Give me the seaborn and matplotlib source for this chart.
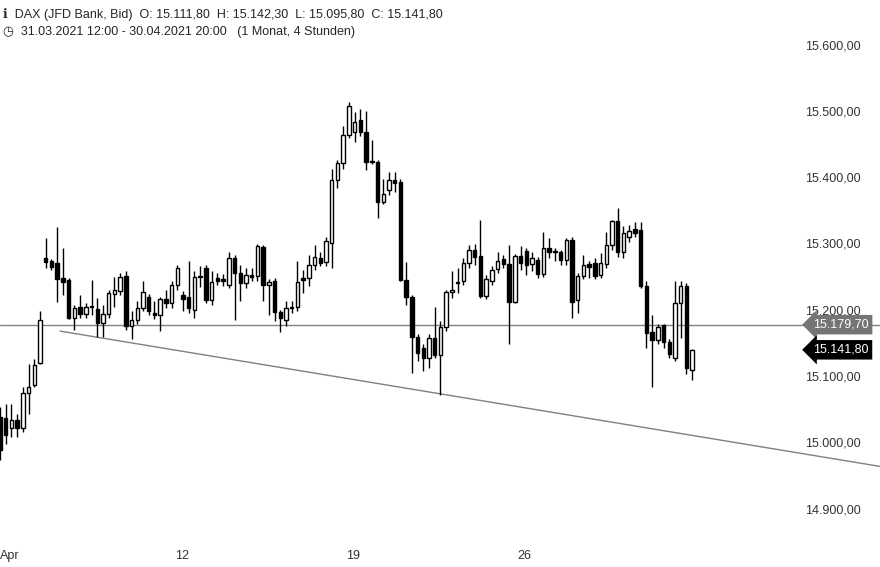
import numpy as np
import pandas as pd
import matplotlib
matplotlib.use("Agg")
import matplotlib.pyplot as plt
import seaborn as sns

# 4h candles DAX (JFD Bank, Bid), 31.03.2021 - 30.04.2021
opens = [15040, 15039, 15024, 15036, 15024, 15077, 15089, 15122,
         15280, 15276, 15273, 15250, 15247, 15190, 15206, 15196, 15208, 15203, 15182, 15196,
         15226, 15230, 15253, 15178, 15187, 15205, 15221, 15197, 15194, 15218, 15212, 15240,
         15224, 15221, 15202, 15253, 15265, 15217, 15250, 15248, 15240, 15280, 15258, 15243,
         15255, 15253, 15297, 15240, 15246, 15199, 15187, 15205, 15206, 15250, 15250, 15270,
         15280, 15274, 15303, 15398, 15424, 15466, 15470, 15488, 15470, 15426, 15425, 15365,
         15383, 15398, 15395, 15247, 15221, 15161, 15145, 15129, 15160, 15134, 15176, 15229,
         15243, 15246, 15273, 15292, 15283, 15223, 15246, 15264, 15279, 15271, 15214, 15283,
         15291, 15271, 15277, 15256, 15295, 15290, 15289, 15277, 15307, 15217, 15253, 15271,
         15273, 15255, 15271, 15300, 15336, 15289, 15312, 15324, 15322, 15238, 15169, 15157,
         15179, 15154, 15129, 15212, 15238, 15111.8]
highs = [15055, 15060, 15060, 15045, 15085, 15120, 15128, 15200,
         15310, 15278, 15327, 15295, 15250, 15210, 15225, 15212, 15247, 15220, 15210, 15232,
         15252, 15258, 15260, 15200, 15215, 15245, 15226, 15215, 15222, 15232, 15245, 15270,
         15230, 15275, 15260, 15268, 15270, 15260, 15258, 15256, 15290, 15285, 15270, 15265,
         15265, 15302, 15300, 15248, 15250, 15202, 15215, 15215, 15275, 15262, 15285, 15300,
         15290, 15312, 15415, 15428, 15480, 15515, 15500, 15505, 15502, 15458, 15428, 15400,
         15410, 15410, 15400, 15274, 15225, 15165, 15150, 15165, 15206, 15185, 15232, 15260,
         15265, 15280, 15300, 15302, 15338, 15255, 15268, 15290, 15285, 15300, 15287, 15298,
         15295, 15290, 15282, 15320, 15310, 15295, 15292, 15310, 15312, 15258, 15285, 15275,
         15280, 15288, 15320, 15338, 15355, 15328, 15330, 15335, 15335, 15245, 15195, 15180,
         15180, 15158, 15245, 15245, 15242, 15142.3]
lows = [14975, 15000, 15010, 15010, 15018, 15045, 15086, 15120,
        15265, 15262, 15214, 15225, 15188, 15172, 15190, 15190, 15195, 15161, 15161, 15190,
        15206, 15225, 15172, 15158, 15180, 15200, 15195, 15188, 15170, 15205, 15205, 15232,
        15200, 15198, 15190, 15236, 15212, 15210, 15240, 15238, 15235, 15187, 15215, 15235,
        15245, 15245, 15215, 15195, 15185, 15169, 15178, 15198, 15200, 15228, 15238, 15262,
        15268, 15268, 15265, 15386, 15415, 15462, 15455, 15465, 15413, 15422, 15340, 15362,
        15375, 15380, 15245, 15210, 15107, 15125, 15110, 15115, 15130, 15074, 15170, 15220,
        15228, 15240, 15265, 15270, 15220, 15218, 15240, 15258, 15265, 15150, 15212, 15262,
        15255, 15260, 15250, 15252, 15280, 15275, 15270, 15270, 15190, 15198, 15248, 15250,
        15248, 15250, 15265, 15292, 15282, 15280, 15305, 15312, 15235, 15145, 15085, 15150,
        15145, 15130, 15125, 15160, 15106, 15095.8]
closes = [14991, 15013, 15036, 15024, 15077, 15086, 15119, 15187,
          15274, 15267, 15249, 15244, 15190, 15205, 15196, 15206, 15206, 15182, 15196, 15227,
          15232, 15252, 15178, 15187, 15205, 15229, 15200, 15194, 15218, 15212, 15240, 15265,
          15218, 15205, 15252, 15252, 15217, 15244, 15246, 15245, 15280, 15258, 15243, 15255,
          15252, 15298, 15240, 15244, 15199, 15190, 15205, 15206, 15244, 15247, 15270, 15282,
          15273, 15306, 15398, 15424, 15466, 15510, 15485, 15470, 15425, 15425, 15365, 15377,
          15398, 15393, 15247, 15221, 15161, 15137, 15129, 15160, 15134, 15176, 15229, 15232,
          15244, 15273, 15292, 15282, 15223, 15249, 15262, 15276, 15271, 15214, 15283, 15273,
          15270, 15280, 15256, 15295, 15289, 15289, 15277, 15307, 15214, 15253, 15270, 15267,
          15253, 15273, 15300, 15336, 15289, 15318, 15321, 15318, 15238, 15167, 15157, 15176,
          15154, 15135, 15212, 15238, 15114, 15141.8]

x_labels = ["Apr", "12", "19", "26"]
x_label_pos = [1.75, 31.8, 61.7, 91.6]
y_ticks = [14900, 15000, 15100, 15200, 15300, 15400, 15500, 15600]
h_level = 15179.70
last_close = 15141.80
trend_x = [10.5, 153.8]
trend_y = [15170, 14966]

df = pd.DataFrame({"o": opens, "h": highs, "l": lows, "c": closes})
df["i"] = np.arange(len(df))
up = df["c"] >= df["o"]

sns.set_style("white")
plt.rcParams["font.family"] = ["Liberation Sans", "DejaVu Sans"]

fig = plt.figure(figsize=(8.8, 5.67), dpi=100)
ax = fig.add_axes([0, 0, 1, 1])
xmax = 880 / 5.72
ax.set_xlim(0, xmax)
ax.set_ylim(14814.2, 15669.4)
ax.axis("off")

# trend line and horizontal level
sns.lineplot(x=trend_x, y=trend_y, ax=ax, color="#808080", lw=1)
ax.axhline(h_level, color="#808080", lw=1, zorder=1)

# candles
ax.vlines(df["i"], df["l"], df["h"], color="black", lw=1, zorder=2)
body_lo = np.minimum(df["o"], df["c"])
body_h = np.maximum(np.abs(df["c"] - df["o"]), 1.2)
ax.bar(df["i"][up], body_h[up], bottom=body_lo[up], width=0.6,
       color="white", edgecolor="black", lw=1, zorder=3)
ax.bar(df["i"][~up], body_h[~up], bottom=body_lo[~up], width=0.6,
       color="black", edgecolor="black", lw=1, zorder=3)


def de_fmt(v):
    s = f"{v:,.2f}"
    return s.replace(",", "X").replace(".", ",").replace("X", ".")


xt = 805 / 5.72
for v in y_ticks:
    ax.text(xt, v, de_fmt(v), fontsize=9, color="#333333", va="center", ha="left")

ax.text(813 / 5.72, h_level, de_fmt(h_level), fontsize=9, color="white", va="center",
        ha="left", bbox=dict(boxstyle="larrow,pad=0.3", fc="#757575", ec="none"), zorder=5)
ax.text(813 / 5.72, last_close, de_fmt(last_close), fontsize=9, color="white", va="center",
        ha="left", bbox=dict(boxstyle="larrow,pad=0.3", fc="black", ec="none"), zorder=5)

for lab, p in zip(x_labels, x_label_pos):
    ax.text(p, 14814.2 + 8, lab, fontsize=9, color="#333333", ha="center", va="bottom")

fig.text(0.003, 0.985, "ℹ  DAX (JFD Bank, Bid)  O: 15.111,80  H: 15.142,30  L: 15.095,80  C: 15.141,80",
         fontsize=9, va="top", ha="left")
fig.text(0.003, 0.955, "◷  31.03.2021 12:00 - 30.04.2021 20:00   (1 Monat, 4 Stunden)",
         fontsize=9, va="top", ha="left")

fig.savefig("out.png", dpi=100)
